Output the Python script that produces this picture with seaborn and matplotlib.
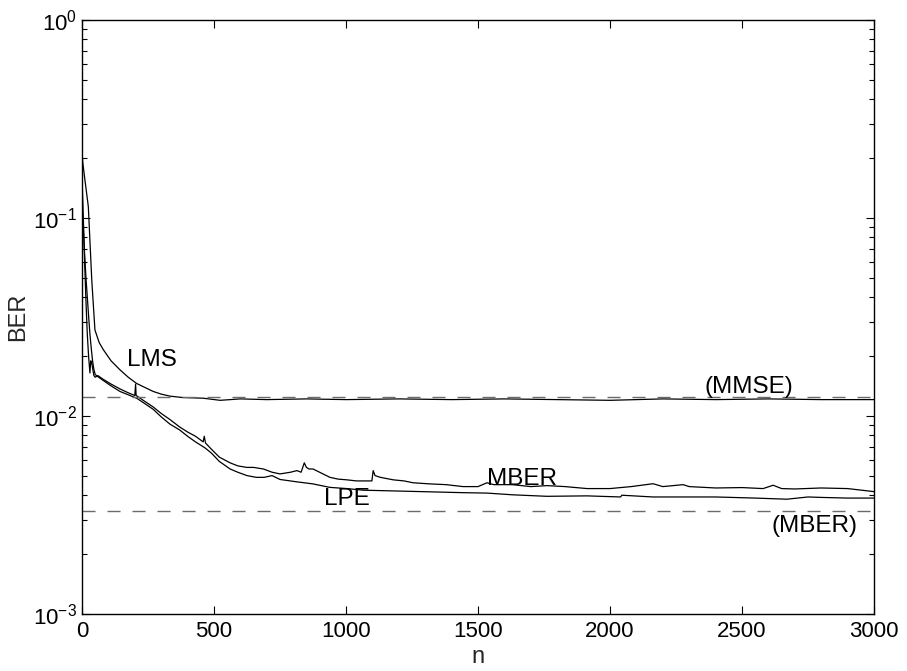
import matplotlib
matplotlib.use("Agg")
import matplotlib.pyplot as plt
import seaborn as sns
import pandas as pd

# ---- learning curves: iteration n vs bit error rate ----
lms_n = [0, 3, 11, 24, 37, 49, 65, 81, 110, 144, 175, 207, 240, 270, 300, 333,
         380, 459, 523, 600, 700, 850, 1000, 1200, 1400, 1600, 1800, 2000,
         2200, 2400, 2600, 2800, 3000]
lms_ber = [0.21, 0.19, 0.156, 0.114, 0.0486, 0.0272, 0.0235, 0.0216, 0.019,
           0.0171, 0.0157, 0.0146, 0.0139, 0.0133, 0.0129, 0.0126, 0.0124,
           0.0123, 0.0120, 0.0122, 0.0121, 0.0122, 0.0121, 0.0122, 0.0121,
           0.0122, 0.0121, 0.0120, 0.0122, 0.0121, 0.0122, 0.0121, 0.0121]

mber_n = [0, 5, 10, 15, 20, 25, 30, 33, 36, 40, 45, 50, 60, 81, 110, 144, 175,
          200, 203, 205, 240, 270, 300, 333, 370, 400, 430, 459, 463, 468, 490,
          520, 561, 590, 624, 650, 687, 720, 750, 790, 814, 830, 842, 850, 860,
          875, 900, 939, 970, 1003, 1040, 1065, 1098, 1103, 1110, 1130, 1179,
          1220, 1254, 1318, 1380, 1443, 1500, 1534, 1560, 1630, 1700, 1761,
          1830, 1913, 2000, 2080, 2163, 2200, 2277, 2300, 2400, 2500, 2580,
          2618, 2650, 2700, 2800, 2900, 3000]
mber_ber = [0.16, 0.10, 0.06, 0.038, 0.026, 0.020, 0.0165, 0.0190, 0.0188,
            0.0175, 0.0160, 0.0157, 0.0160, 0.0153, 0.0145, 0.0137, 0.0131,
            0.0127, 0.0145, 0.0127, 0.0118, 0.0111, 0.0103, 0.0096, 0.0088,
            0.0083, 0.0079, 0.0074, 0.0079, 0.0073, 0.0068, 0.0062, 0.0058,
            0.0056, 0.0055, 0.0055, 0.0054, 0.0052, 0.0051, 0.0052, 0.0053,
            0.0052, 0.0058, 0.0055, 0.0054, 0.0054, 0.0052, 0.0049, 0.0048,
            0.00476, 0.0047, 0.0047, 0.0047, 0.0053, 0.0050, 0.0049, 0.00476,
            0.0047, 0.0046, 0.00454, 0.0045, 0.0044, 0.0044, 0.0046, 0.0045,
            0.0045, 0.0044, 0.00445, 0.0044, 0.0043, 0.0043, 0.0044, 0.00455,
            0.0044, 0.0045, 0.0044, 0.00433, 0.00435, 0.0043, 0.00447, 0.0043,
            0.00428, 0.00433, 0.0043, 0.00415]

lpe_n = [0, 5, 10, 15, 20, 25, 30, 35, 40, 45, 50, 60, 81, 110, 144, 175, 207,
         240, 270, 300, 333, 370, 400, 430, 466, 490, 520, 561, 590, 625, 660,
         690, 720, 750, 814, 875, 939, 1003, 1065, 1193, 1318, 1443, 1534,
         1630, 1761, 1913, 2040, 2045, 2163, 2277, 2400, 2550, 2670, 2750,
         2800, 2900, 3000]
lpe_ber = [0.11, 0.09, 0.065, 0.05, 0.04, 0.032, 0.026, 0.022, 0.019, 0.0172,
           0.0162, 0.0158, 0.0151, 0.0142, 0.0133, 0.0128, 0.0123, 0.0115,
           0.0108, 0.0099, 0.0091, 0.0085, 0.0079, 0.0074, 0.0069, 0.0065,
           0.0059, 0.0054, 0.0052, 0.0050, 0.0049, 0.0049, 0.0050, 0.00478,
           0.00465, 0.00454, 0.00436, 0.0043, 0.00422, 0.00418, 0.00414,
           0.00410, 0.00408, 0.00400, 0.00393, 0.00395, 0.0039, 0.00398,
           0.0039, 0.0039, 0.0039, 0.00385, 0.0038, 0.0039, 0.00388, 0.00385,
           0.00385]

# theoretical optimum levels
mmse_level = 0.01247
mber_level = 0.00332

x_ticks = [0, 500, 1000, 1500, 2000, 2500, 3000]
y_ticks = [1e-3, 1e-2, 1e-1, 1e0]

sns.set_theme(style="ticks")
plt.rcParams["font.family"] = ["Liberation Sans", "DejaVu Sans"]
plt.rcParams["mathtext.fontset"] = "custom"
plt.rcParams["mathtext.rm"] = "Liberation Sans"
plt.rcParams["mathtext.it"] = "Liberation Sans"

fig = plt.figure(figsize=(9.07, 6.71), dpi=100)
ax = fig.add_axes([82 / 907, 1 - 614 / 671, (874 - 82) / 907, (614 - 20) / 671])

curves = [("LMS", lms_n, lms_ber), ("MBER", mber_n, mber_ber), ("LPE", lpe_n, lpe_ber)]
for name, n, ber in curves:
    df = pd.DataFrame({"n": n, "BER": ber})
    sns.lineplot(data=df, x="n", y="BER", ax=ax, color="black", linewidth=0.9,
                 estimator=None, sort=False)

for lvl in (mmse_level, mber_level):
    ax.axhline(lvl, color="#6a6a6a", linewidth=1.0, dashes=(9.4, 8.6))

ax.set_yscale("log")
ax.set_xlim(0, 3000)
ax.set_ylim(1e-3, 1e0)
ax.set_xticks(x_ticks)
ax.set_xticklabels([str(t) for t in x_ticks])
ax.set_yticks(y_ticks)

ax.tick_params(which="both", direction="in", top=True, right=True,
               labelsize=16, width=0.8, colors="black")
ax.tick_params(which="major", length=6)
ax.tick_params(which="minor", length=3.5)
ax.tick_params(axis="x", pad=5)
for sp in ax.spines.values():
    sp.set_linewidth(1.0)
    sp.set_color("black")

ax.set_xlabel("n", fontsize=17, labelpad=3)
ax.set_ylabel("BER", fontsize=17, labelpad=3)

txt = dict(fontsize=17.5, ha="center", va="baseline", color="black")
ax.text(265, 0.0179, "LMS", **txt)
ax.text(2527, 0.01306, "(MMSE)", **txt)
ax.text(1667, 0.00448, "MBER", **txt)
ax.text(1004, 0.00355, "LPE", **txt)
ax.text(2773, 0.00260, "(MBER)", **txt)

fig.savefig("out.png", dpi=100)
